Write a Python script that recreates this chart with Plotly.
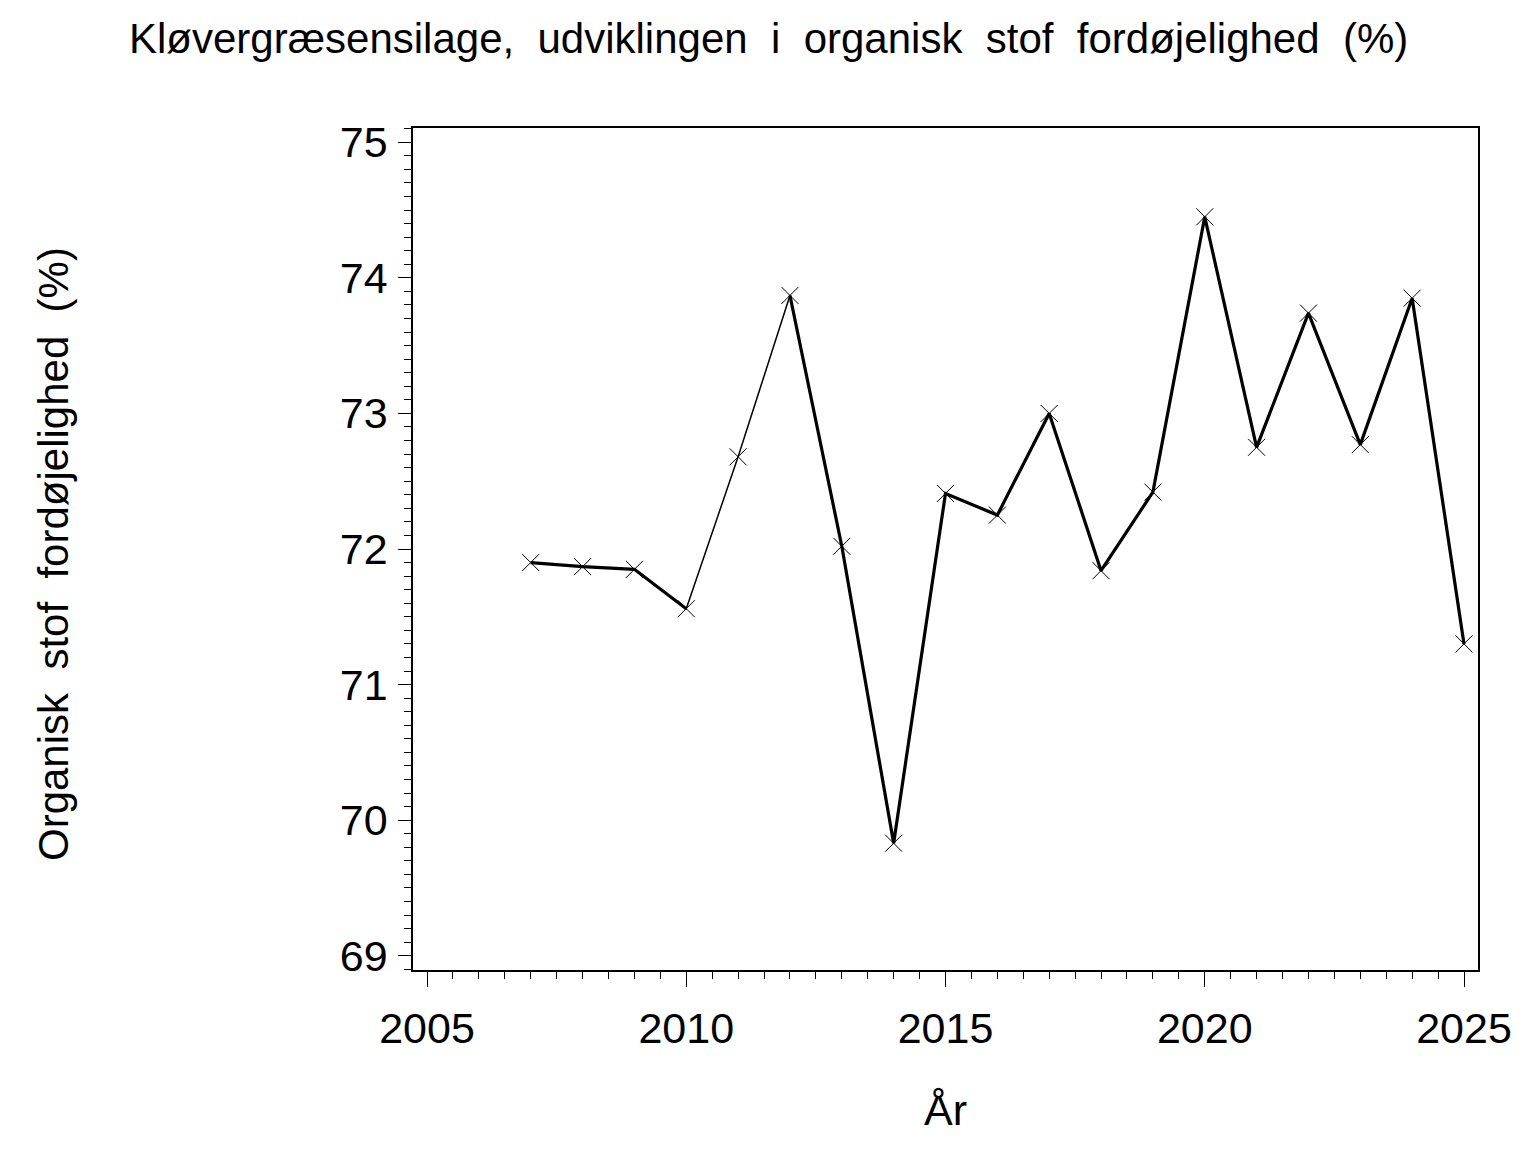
import plotly.graph_objects as go

years = [2007, 2008, 2009, 2010, 2011, 2012, 2013, 2014, 2015, 2016,
         2017, 2018, 2019, 2020, 2021, 2022, 2023, 2024, 2025]
values = [71.90, 71.87, 71.85, 71.56, 72.68, 73.87, 72.02, 69.83, 72.41, 72.25,
          73.00, 71.84, 72.42, 74.45, 72.75, 73.74, 72.77, 73.85, 71.30]
thin_years = [2011]  # segments touching this year are drawn thin in the original

title_text = "Kløvergræsensilage,  udviklingen  i  organisk  stof  fordøjelighed  (%)"
ytitle_text = "Organisk  stof  fordøjelighed  (%)"
xtitle_text = "År"
x_ticks = [2005, 2010, 2015, 2020, 2025]
y_ticks = [69, 70, 71, 72, 73, 74, 75]

FONT = "Liberation Sans, Arial, sans-serif"

thick_vals = [None if yr in thin_years else v for yr, v in zip(years, values)]

fig = go.Figure()
fig.add_trace(go.Scatter(x=years, y=values, mode="lines",
                         line=dict(color="black", width=1.5), hoverinfo="skip"))
fig.add_trace(go.Scatter(x=years, y=thick_vals, mode="lines", connectgaps=False,
                         line=dict(color="black", width=3.2), hoverinfo="skip"))
fig.add_trace(go.Scatter(x=years, y=values, mode="markers",
                         marker=dict(symbol="x-thin-open", size=17, color="black",
                                     line=dict(color="black", width=1))))

axis_common = dict(showline=True, linecolor="black", linewidth=1.5, mirror=True,
                   showgrid=False, zeroline=False, ticks="outside",
                   tickcolor="black", tickwidth=1.2,
                   tickfont=dict(family=FONT, size=43, color="black"))

# page body has an 8px margin, so offsets below compensate for it
OFF = 8
W, H = 1536, 1152
l, r, t, b = 413 - OFF, 58 + OFF, 128 - OFF, 182 + OFF

fig.update_layout(
    width=W, height=H,
    paper_bgcolor="white", plot_bgcolor="white",
    showlegend=False,
    margin=dict(l=l, r=r, t=t, b=b),
    xaxis=dict(range=[2004.73, 2025.27], tickvals=x_ticks, ticklen=15,
               ticklabelstandoff=5,
               minor=dict(dtick=0.5, tick0=2005, ticklen=7, tickcolor="black",
                          tickwidth=1.2, ticks="outside"),
               **axis_common),
    yaxis=dict(range=[68.895, 75.105], tickvals=y_ticks, ticklen=13,
               ticklabelstandoff=2,
               minor=dict(dtick=0.1, tick0=69, ticklen=7, tickcolor="black",
                          tickwidth=1.2, ticks="outside"),
               **axis_common),
)

pw, ph = W - l - r, H - t - b
ann_specs = [
    (title_text, 768, 38, 0, 42),
    (ytitle_text, 53, 554, -90, 42),
    (xtitle_text, 945, 1110, 0, 43),
]
anns = []
for text, x, y, ang, size in ann_specs:
    x -= OFF
    y -= OFF
    anns.append(dict(text=text, xref="paper", yref="paper",
                     x=(x - l) / pw, y=(H - b - y) / ph,
                     showarrow=False, textangle=ang,
                     font=dict(family=FONT, size=size, color="black"),
                     xanchor="center", yanchor="middle"))
fig.update_layout(annotations=anns)

fig.write_html("out.html")
